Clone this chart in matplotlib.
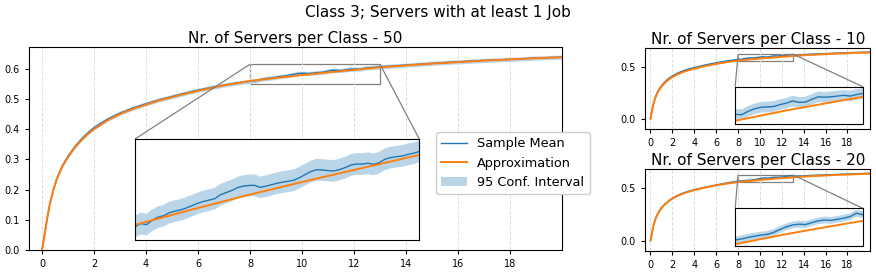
import matplotlib
matplotlib.use("Agg")
import matplotlib.pyplot as plt
from mpl_toolkits.axes_grid1.inset_locator import mark_inset

# ---------------- data ----------------
t_approx = [0, 0.05, 0.1, 0.2, 0.3, 0.45, 0.6, 0.8, 1.0, 1.25, 1.5, 1.75, 2.0, 2.5,
            3.0, 3.5, 4.0, 4.5, 5.0, 5.5, 6.0, 6.5, 7.0, 7.5, 8.0, 9.0, 10.0, 11.0,
            12.0, 13.0, 14.0, 15.0, 16.0, 17.0, 18.0, 19.0, 20.0]
approx = [0, 0.025, 0.052, 0.105, 0.152, 0.203, 0.242, 0.280, 0.308, 0.338, 0.362,
          0.383, 0.400, 0.428, 0.450, 0.467, 0.481, 0.495, 0.506, 0.517, 0.527,
          0.536, 0.545, 0.552, 0.5597, 0.5695, 0.5790, 0.5878, 0.5963, 0.6047,
          0.611, 0.617, 0.622, 0.627, 0.631, 0.635, 0.638]

# Nr. of servers per class = 50
t_mean50 = [0, 0.1, 0.2, 0.3, 0.45, 0.6, 0.8, 1.0, 1.25, 1.5, 1.75, 2.0, 2.5, 3.0,
            3.5, 4.0, 4.5, 5.0, 5.5, 6.0, 6.5, 7.0, 7.5,
            8.0, 8.1, 8.2, 8.3, 8.4, 8.5, 8.6, 8.7, 8.8, 8.9,
            9.0, 9.1, 9.2, 9.3, 9.4, 9.5, 9.6, 9.7, 9.8, 9.9,
            10.0, 10.1, 10.2, 10.3, 10.4, 10.5, 10.6, 10.7, 10.8, 10.9,
            11.0, 11.1, 11.2, 11.3, 11.4, 11.5, 11.6, 11.7, 11.8, 11.9,
            12.0, 12.1, 12.2, 12.3, 12.4, 12.5, 12.6, 12.7, 12.8, 12.9, 13.0,
            13.5, 14.0, 15.0, 16.0, 17.0, 18.0, 19.0, 20.0]
mean50 = [0, 0.053, 0.106, 0.153, 0.204, 0.244, 0.282, 0.311, 0.341, 0.366, 0.387,
          0.405, 0.432, 0.453, 0.470, 0.484, 0.497, 0.508, 0.519, 0.529, 0.538,
          0.546, 0.553,
          0.5586, 0.5605, 0.5598, 0.5625, 0.5646, 0.5655, 0.5675, 0.5685, 0.5693, 0.5705,
          0.5720, 0.5735, 0.5747, 0.5756, 0.5765, 0.5790, 0.5804, 0.5818, 0.5836, 0.5846,
          0.5850, 0.5852, 0.5838, 0.5846, 0.5855, 0.5865, 0.5872, 0.5878, 0.5885, 0.5902,
          0.5922, 0.5941, 0.5952, 0.5950, 0.5946, 0.5944, 0.5953, 0.5966, 0.5982, 0.5989,
          0.5988, 0.5994, 0.5986, 0.5998, 0.6020, 0.6030, 0.6036, 0.6040, 0.6050, 0.6058, 0.6069,
          0.609, 0.612, 0.618, 0.623, 0.6275, 0.631, 0.6355, 0.6385]
ci50 = 0.007

# Nr. of servers per class = 10
t_mean10 = [0, 0.1, 0.2, 0.3, 0.45, 0.6, 0.8, 1.0, 1.25, 1.5, 1.75, 2.0, 2.5, 3.0,
            3.5, 4.0, 4.5, 5.0, 5.5, 6.0, 6.5, 7.0, 7.5,
            8.0, 8.25, 8.5, 8.75, 9.0, 9.25, 9.5, 9.75, 10.0, 10.25, 10.5, 10.75,
            11.0, 11.25, 11.5, 11.75, 12.0, 12.25, 12.5, 12.75, 13.0,
            13.5, 14.0, 15.0, 16.0, 17.0, 18.0, 19.0, 20.0]
mean10 = [0, 0.055, 0.108, 0.156, 0.208, 0.248, 0.287, 0.317, 0.348, 0.373, 0.394,
          0.412, 0.440, 0.462, 0.479, 0.492, 0.505, 0.517, 0.528, 0.538, 0.547,
          0.556, 0.564,
          0.5717, 0.5710, 0.5773, 0.5822, 0.5850, 0.5857, 0.5864, 0.5900, 0.5928,
          0.5970, 0.5942, 0.5949, 0.5998, 0.6047, 0.6040, 0.6047, 0.6061, 0.6075,
          0.6061, 0.6089, 0.6110,
          0.615, 0.618, 0.623, 0.627, 0.631, 0.636, 0.639, 0.641]
ci10 = 0.010

# Nr. of servers per class = 20
t_mean20 = t_mean10
mean20 = [0, 0.054, 0.107, 0.154, 0.205, 0.245, 0.283, 0.312, 0.342, 0.366, 0.387,
          0.405, 0.433, 0.455, 0.472, 0.486, 0.499, 0.510, 0.521, 0.531, 0.541,
          0.552, 0.560,
          0.5677, 0.5699, 0.5728, 0.5750, 0.5772, 0.5786, 0.5822, 0.5880, 0.5931,
          0.5968, 0.5982, 0.5975, 0.6011, 0.6047, 0.6062, 0.6055, 0.6076, 0.6098,
          0.6127, 0.6193, 0.6164,
          0.617, 0.619, 0.624, 0.628, 0.632, 0.636, 0.640, 0.643]
ci20 = 0.0065

x_ticks = [0, 2, 4, 6, 8, 10, 12, 14, 16, 18]
zoom_x = (8, 13)

# ---------------- drawing ----------------
BLUE = "#1f77b4"
ORANGE = "#ff7f0e"
TITLE_FS = 11
LEGEND_FS = 9.3
TICK_FS = 7


def draw_lines(a, t, m, ci, with_labels=False):
    lo = [v - ci for v in m]
    hi = [v + ci for v in m]
    a.fill_between(t, lo, hi, color=BLUE, alpha=0.3, lw=0,
                   label="95 Conf. Interval" if with_labels else None)
    a.plot(t, m, color=BLUE, lw=1.0, label="Sample Mean" if with_labels else None)
    a.plot(t_approx, approx, color=ORANGE, lw=1.4,
           label="Approximation" if with_labels else None)


def panel(a, t, m, ci, title, xlim, ylim, yticks, ytl, inset_rect, inset_ylim,
          labels=False):
    draw_lines(a, t, m, ci, labels)
    a.set_xlim(*xlim)
    a.set_ylim(*ylim)
    a.set_xticks(x_ticks)
    a.set_yticks(yticks)
    a.set_yticklabels(ytl)
    a.tick_params(labelsize=TICK_FS, length=3, width=0.8)
    a.grid(axis="x", linestyle="--", color="#dddddd", lw=0.7)
    a.set_title(title, fontsize=TITLE_FS, pad=3)
    axins = a.inset_axes(inset_rect)
    draw_lines(axins, t, m, ci)
    axins.set_xlim(*zoom_x)
    axins.set_ylim(*inset_ylim)
    axins.set_xticks([])
    axins.set_yticks([])
    mark_inset(a, axins, loc1=2, loc2=1, fc="none", ec="0.5", lw=0.9)
    return axins


fig = plt.figure(figsize=(8.76, 2.73), dpi=100)
ax50 = fig.add_axes([0.0331, 0.0842, 0.6085, 0.7436])
ax10 = fig.add_axes([0.7363, 0.5275, 0.2574, 0.2978])
ax20 = fig.add_axes([0.7363, 0.0806, 0.2574, 0.3004])

panel(ax50, t_mean50, mean50, ci50, "Nr. of Servers per Class - 50",
      (-0.5, 20.0), (0.0, 0.672),
      [0.0, 0.1, 0.2, 0.3, 0.4, 0.5, 0.6],
      ["0.0", "0.1", "0.2", "0.3", "0.4", "0.5", "0.6"],
      [0.199, 0.05, 0.533, 0.497], (0.550, 0.615), labels=True)
panel(ax10, t_mean10, mean10, ci10, "Nr. of Servers per Class - 10",
      (-0.5, 20.1), (-0.1, 0.684), [0.0, 0.5], ["0.0", "0.5"],
      [0.40, 0.06, 0.566, 0.46], (0.5534, 0.6237))
panel(ax20, t_mean20, mean20, ci20, "Nr. of Servers per Class - 20",
      (-0.5, 20.1), (-0.1, 0.684), [0.0, 0.5], ["0.0", "0.5"],
      [0.40, 0.06, 0.566, 0.46], (0.5561, 0.6287))

handles, labels = ax50.get_legend_handles_labels()
order = [labels.index("Sample Mean"), labels.index("Approximation"),
         labels.index("95 Conf. Interval")]
fig.legend([handles[i] for i in order], [labels[i] for i in order],
           loc="upper left", bbox_to_anchor=(436 / 876, 1 - 132 / 273),
           bbox_transform=fig.transFigure, fontsize=LEGEND_FS, framealpha=1,
           borderaxespad=0)

fig.suptitle("Class 3; Servers with at least 1 Job", fontsize=TITLE_FS, y=0.98)

fig.savefig("out.png", dpi=100)
